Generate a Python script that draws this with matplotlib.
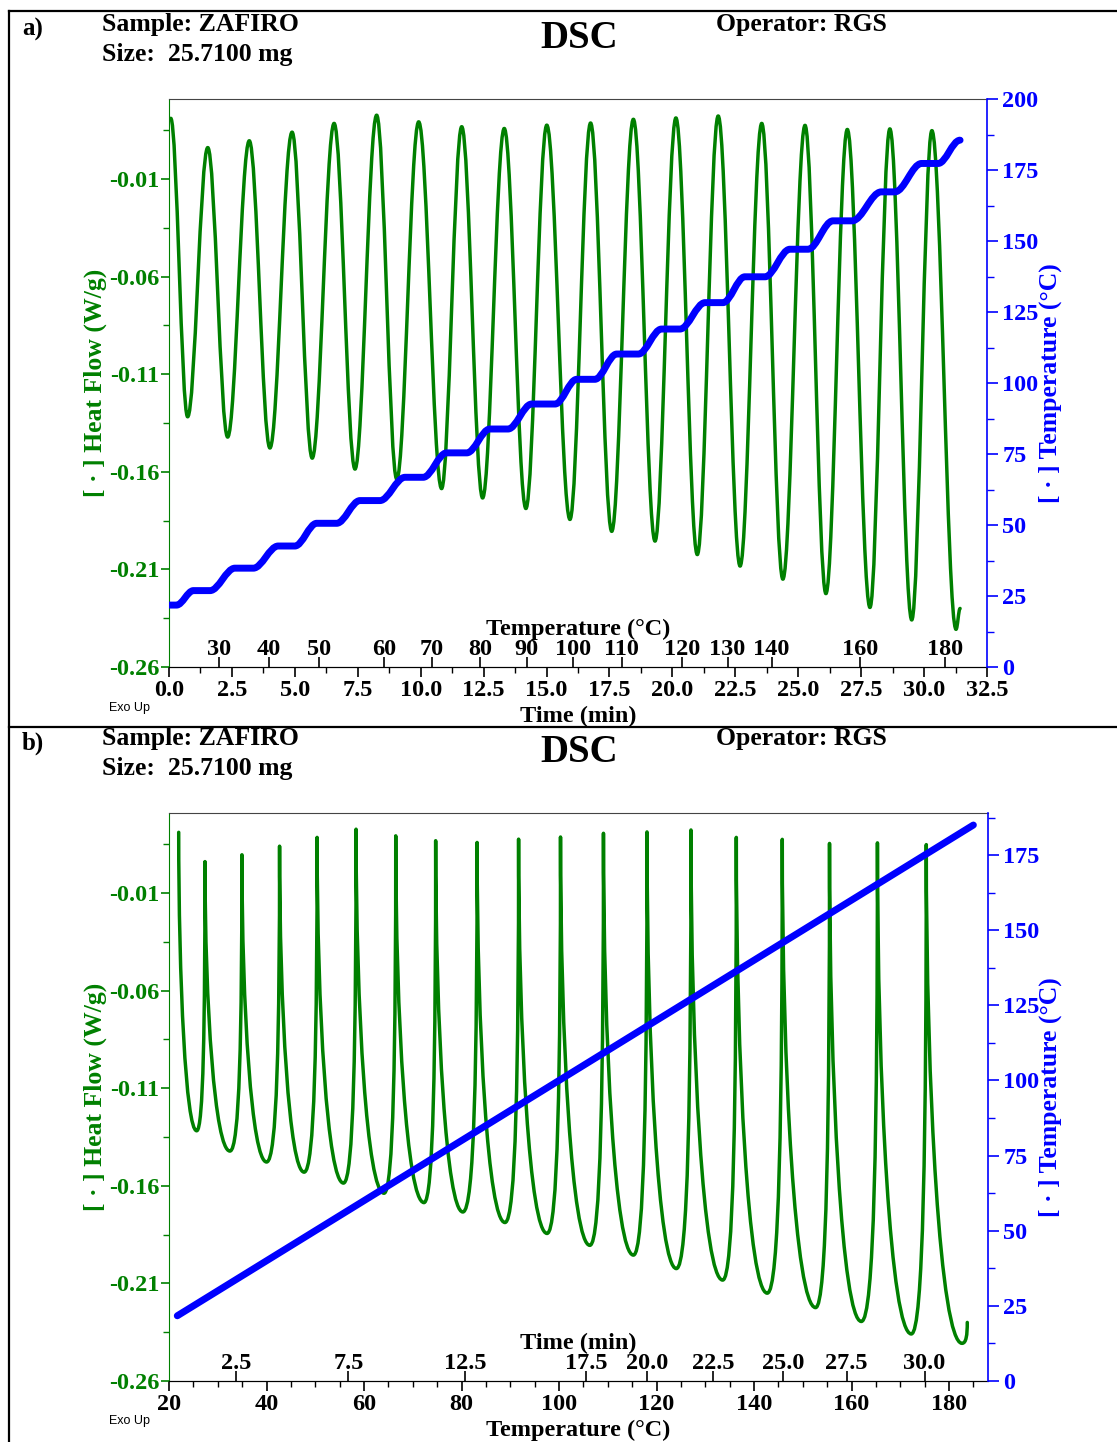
import matplotlib
matplotlib.use("Agg")
import matplotlib.pyplot as plt
from matplotlib import ticker
from matplotlib.path import Path
from matplotlib.patches import PathPatch
from matplotlib.lines import Line2D

plt.rcParams['font.family'] = ['Liberation Serif', 'DejaVu Serif']
plt.rcParams['font.weight'] = 'bold'
plt.rcParams['axes.labelweight'] = 'bold'
plt.rcParams['axes.unicode_minus'] = False

# heat flow extrema (W/g), same measurement shown in both panels
hf_peak = [0.0211, 0.0061, 0.0096, 0.0140, 0.0185, 0.0227, 0.0193, 0.0168, 0.0159,
           0.0176, 0.0187, 0.0206, 0.0213, 0.0223, 0.0185, 0.0175, 0.0154, 0.0157, 0.0148]
hf_trough = [-0.1318, -0.1422, -0.1478, -0.1530, -0.1586, -0.1638, -0.1686, -0.1734, -0.1788,
             -0.1844, -0.1905, -0.1955, -0.2024, -0.2083, -0.2150, -0.2224, -0.2295, -0.2359, -0.2407]
hf_end = -0.2300

# panel a: time (min) of each extremum
a_peak_time = [0.07, 1.54, 3.19, 4.89, 6.56, 8.25, 9.92, 11.63, 13.32, 15.01,
               16.75, 18.45, 20.14, 21.82, 23.55, 25.27, 26.95, 28.64, 30.31]
a_trough_time = [0.74, 2.33, 4.01, 5.69, 7.39, 9.05, 10.83, 12.46, 14.18, 15.93,
                 17.59, 19.31, 20.99, 22.69, 24.39, 26.10, 27.85, 29.51, 31.27]
a_end_time = 31.43

# panel a: modulated temperature ramp (plateaus)
plat_start = [0.0, 0.97, 2.62, 4.34, 5.87, 7.59, 9.38, 11.03, 12.75, 14.41,
              16.20, 17.79, 19.57, 21.30, 22.88, 24.67, 26.38, 28.30, 29.90]
plat_end = [0.30, 1.63, 3.35, 5.00, 6.66, 8.38, 10.10, 11.83, 13.47, 15.34,
            16.92, 18.65, 20.30, 22.01, 23.68, 25.39, 27.14, 28.84, 30.56]
plat_temp = [21.8, 26.9, 34.8, 42.6, 50.6, 58.6, 66.8, 75.4, 83.8, 92.6,
             101.3, 110.2, 119.0, 128.3, 137.4, 147.1, 157.1, 167.3, 177.3]
ramp_end_time = 31.43
ramp_end_temp = 185.5

temp_tick_vals = [30, 40, 50, 60, 70, 80, 90, 100, 110, 120, 130, 140, 160, 180]
temp_tick_times = [1.99, 3.97, 5.96, 8.54, 10.45, 12.36, 14.22, 16.05, 17.99,
                   20.39, 22.19, 23.94, 27.45, 30.83]

# panel b: temperature (°C) of each extremum
b_peak_temp = [21.99, 27.38, 34.96, 42.68, 50.38, 58.37, 66.51, 74.70, 83.20, 91.71,
               100.31, 109.12, 118.05, 127.07, 136.37, 145.80, 155.49, 165.32, 175.34]
b_trough_temp = [25.68, 32.50, 40.02, 47.72, 55.79, 64.11, 72.31, 80.28, 88.92, 97.55,
                 106.33, 115.27, 124.08, 133.58, 142.72, 152.64, 162.02, 172.27, 182.67]
b_end_temp = 183.75
b_line_temp = [21.7, 185.0]

time_tick_vals = ['2.5', '7.5', '12.5', '17.5', '20.0', '22.5', '25.0', '27.5', '30.0']
time_tick_temps = [33.8, 56.8, 80.7, 105.6, 118.0, 131.6, 145.9, 159.0, 175.0]

GREEN = '#008000'
BLUE = '#0000ff'
FS = 17.5
W, H = 1117, 1442


def handle(px, py, qx, qy, mode, k):
    if mode == 'h':
        return (px + k * (qx - px), py)
    return (px, py + k * (qy - py))


def smooth_path(xs, ys, modes, k_fall, k_rise):
    verts = [(xs[0], ys[0])]
    codes = [Path.MOVETO]
    for i in range(len(xs) - 1):
        x0, y0, x1, y1 = xs[i], ys[i], xs[i + 1], ys[i + 1]
        k0, k1 = k_fall if y1 < y0 else k_rise
        verts += [handle(x0, y0, x1, y1, modes[i], k0),
                  handle(x1, y1, x0, y0, modes[i + 1], k1),
                  (x1, y1)]
        codes += [Path.CURVE4] * 3
    return Path(verts, codes)


def interleave(p, t, end):
    out = []
    for a, b in zip(p, t):
        out += [a, b]
    return out + [end]


def fx(px):
    return px / W


def fy(py):
    return 1 - py / H


def setup_axes(ax, ax2):
    ax.set_ylim(-0.26, 0.031)
    ax.yaxis.set_major_locator(ticker.MultipleLocator(0.05, offset=-0.01))
    ax.yaxis.set_minor_locator(ticker.MultipleLocator(0.025, offset=-0.01))
    ax.yaxis.set_major_formatter(ticker.FormatStrFormatter('%.2f'))
    ax.tick_params(axis='y', which='major', colors=GREEN, length=6, width=1.2, pad=1, labelsize=FS)
    ax.tick_params(axis='y', which='minor', colors=GREEN, length=4, width=1.0)
    ax.tick_params(axis='x', which='major', length=7, width=1.2, pad=2, labelsize=FS)
    ax.tick_params(axis='x', which='minor', length=4, width=1.0)
    ax.spines['left'].set_color(GREEN)
    ax.spines['right'].set_visible(False)
    ax.spines['top'].set_color('#444444')
    for s in ['left', 'top', 'bottom']:
        ax2.spines[s].set_visible(False)
    ax2.spines['right'].set_color(BLUE)
    ax2.spines['right'].set_linewidth(1.2)
    ax2.yaxis.set_major_locator(ticker.MultipleLocator(25))
    ax2.yaxis.set_minor_locator(ticker.MultipleLocator(12.5))
    ax2.tick_params(axis='y', which='major', colors=BLUE, length=8, width=1.2, pad=3, labelsize=FS)
    ax2.tick_params(axis='y', which='minor', colors=BLUE, length=5, width=1.0)


def header(y0, tag):
    fig.text(fx(22), fy(y0 + 29), tag, fontsize=18, va='center', ha='left')
    fig.text(fx(102), fy(y0 + 25), 'Sample: ZAFIRO', fontsize=18.5, va='center', ha='left')
    fig.text(fx(102), fy(y0 + 54), 'Size:  25.7100 mg', fontsize=18.5, va='center', ha='left')
    fig.text(fx(579), fy(y0 + 38), 'DSC', fontsize=28, va='center', ha='center')
    fig.text(fx(716), fy(y0 + 25), 'Operator: RGS', fontsize=18.5, va='center', ha='left')


fig = plt.figure(figsize=(W / 100, H / 100), dpi=100)

# frame lines
for xs_, ys_ in [([9, W], [11, 11]), ([9, 9], [11, H]), ([9, W], [727, 727])]:
    fig.add_artist(Line2D([fx(v) for v in xs_], [fy(v) for v in ys_], color='black', lw=1.6))

# ---------------- panel a: vs time ----------------
header(0, 'a)')
ax = fig.add_axes([fx(169), fy(667), (987 - 169) / W, (667 - 99) / H])
ax2 = ax.twinx()
setup_axes(ax, ax2)
ax.set_xlim(0, 32.5)
ax.xaxis.set_major_locator(ticker.MultipleLocator(2.5))
ax.xaxis.set_minor_locator(ticker.MultipleLocator(1.25))
ax.xaxis.set_major_formatter(ticker.FormatStrFormatter('%.1f'))
ax2.set_ylim(0, 200)

xs = interleave(a_peak_time, a_trough_time, a_end_time)
ys = interleave(hf_peak, hf_trough, hf_end)
ax.add_patch(PathPatch(smooth_path(xs, ys, ['h'] * len(xs), (0.364, 0.364), (0.364, 0.364)),
                       fill=False, ec=GREEN, lw=2.5, capstyle='round', joinstyle='round'))

tx, ty = [], []
for s, e, T in zip(plat_start, plat_end, plat_temp):
    tx += [s, e]
    ty += [T, T]
tx.append(ramp_end_time)
ty.append(ramp_end_temp)
ax2.add_patch(PathPatch(smooth_path(tx, ty, ['h'] * len(tx), (0.35, 0.35), (0.35, 0.35)),
                        fill=False, ec=BLUE, lw=5, capstyle='round', joinstyle='round', zorder=3))

sec = ax.secondary_xaxis(0.0)
sec.set_alignment('top')
sec.set_ticks(temp_tick_times, labels=[str(v) for v in temp_tick_vals])
sec.tick_params(axis='x', length=7, width=1.2, pad=-2, labelsize=FS)
sec.set_xlabel('Temperature (°C)', fontsize=FS, labelpad=3)
ax.set_xlabel('Time (min)', fontsize=FS, labelpad=4)

fig.text(fx(95), fy(383), '[ · ] Heat Flow (W/g)', color=GREEN, fontsize=18.5,
         rotation=90, va='center', ha='center')
fig.text(fx(1050), fy(383), '[ · ] Temperature (°C)', color=BLUE, fontsize=18.5,
         rotation=90, va='center', ha='center')
fig.text(fx(109), fy(708), 'Exo Up', fontsize=9, family='Liberation Sans',
         weight='normal', va='center', ha='left')

# ---------------- panel b: vs temperature ----------------
header(714, 'b)')
bx = fig.add_axes([fx(169), fy(1381), (988 - 169) / W, (1381 - 813) / H])
bx2 = bx.twinx()
setup_axes(bx, bx2)
bx.set_xlim(20, 188)
bx.xaxis.set_major_locator(ticker.MultipleLocator(20))
bx.xaxis.set_minor_locator(ticker.MultipleLocator(5))
bx2.set_ylim(0, 189)

xs = interleave(b_peak_temp, b_trough_temp, b_end_temp)
modes = interleave(['v'] * len(b_peak_temp), ['h'] * len(b_trough_temp), 'v')
bx.add_patch(PathPatch(smooth_path(xs, ys, modes, (0.5, 0.6), (0.8, 0.6)),
                       fill=False, ec=GREEN, lw=2.5, capstyle='round', joinstyle='round'))
bx2.plot(b_line_temp, b_line_temp, color=BLUE, lw=5, solid_capstyle='round')

secb = bx.secondary_xaxis(0.0)
secb.set_alignment('top')
secb.set_ticks(time_tick_temps, labels=time_tick_vals)
secb.tick_params(axis='x', length=7, width=1.2, pad=-2, labelsize=FS)
secb.set_xlabel('Time (min)', fontsize=FS, labelpad=3)
bx.set_xlabel('Temperature (°C)', fontsize=FS, labelpad=4)

fig.text(fx(95), fy(1097), '[ · ] Heat Flow (W/g)', color=GREEN, fontsize=18.5,
         rotation=90, va='center', ha='center')
fig.text(fx(1050), fy(1097), '[ · ] Temperature (°C)', color=BLUE, fontsize=18.5,
         rotation=90, va='center', ha='center')
fig.text(fx(109), fy(1421), 'Exo Up', fontsize=9, family='Liberation Sans',
         weight='normal', va='center', ha='left')

fig.savefig('out.png', dpi=100)
